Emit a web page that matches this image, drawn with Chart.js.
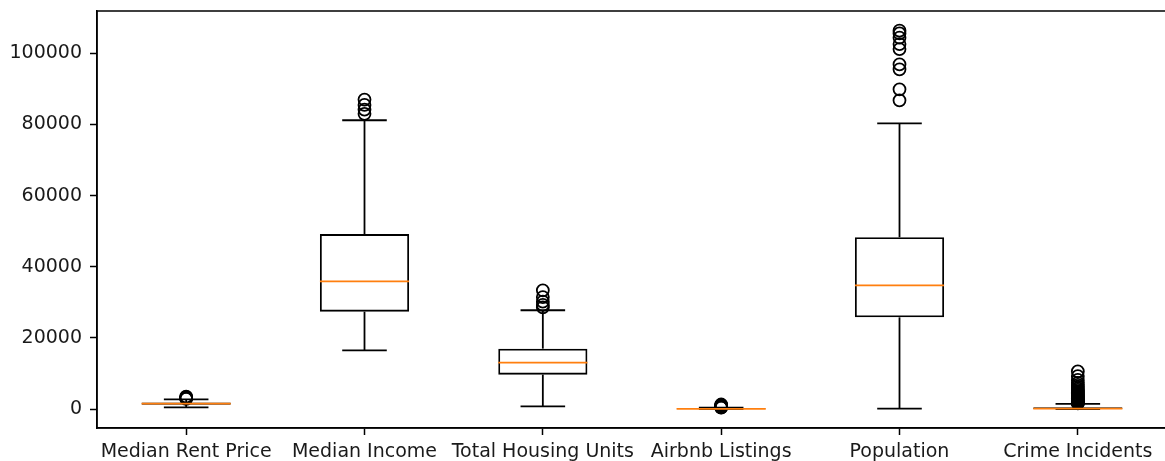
<!DOCTYPE html>
<html>
<head>
<meta charset="utf-8">
<script src="https://cdn.jsdelivr.net/npm/chart.js@4/dist/chart.umd.min.js"></script>
<style>
  html, body { margin: 0; padding: 0; background: #fff; overflow: hidden; }
  #box-chart { display: block; width: 1172px; height: 461px; }
</style>
</head>
<body>
<canvas id="box-chart" width="1172" height="461"></canvas>
<script>
// boxplot (matplotlib 스타일) — 박스는 floating bar, 수염/중앙값은 플러그인
const categories = ["Median Rent Price", "Median Income", "Total Housing Units", "Airbnb Listings", "Population", "Crime Incidents"];
const q1 =          [1250,  27400,  9700,   20,  25800,   60];
const medians =     [1550,  35900, 13100,   60,  34800,  170];
const q3 =          [1850,  49200, 17000,  190,  48300,  560];
const whiskerLow =  [ 480,  16500,   750,    0,    150,    0];
const whiskerHigh = [2750,  81200, 27800,  420,  80300, 1500];

const outRent    = [2900, 3050, 3200, 3350, 3500];
const outIncome  = [83000, 84200, 85500, 87000];
const outHousing = [28600, 29300, 30200, 31500, 33400];
const outAirbnb  = [450, 520, 600, 700, 800, 900, 1000, 1150, 1300];
const outPop     = [86800, 89900, 95500, 96900, 101200, 102600, 104400, 105600, 106400];
const outCrime   = [1600, 1700, 1800, 1900, 2000, 2100, 2200, 2350, 2500, 2650, 2800, 3000, 3200, 3400,
                    3600, 3800, 4100, 4400, 4700, 5000, 5400, 5800, 6300, 6800, 7400, 8200, 9300, 10600];
const outliers = [outRent, outIncome, outHousing, outAirbnb, outPop, outCrime];

const yTicks = [0, 20000, 40000, 60000, 80000, 100000];
const yMin = -5300, yMax = 111900;

const INK = "#000";
const TEXT = "#1a1a1a";
const MEDIAN_COLOR = "#ff7f0e";
const FONT = { family: "DejaVu Sans", size: 19 };
const LW = 1.8;

const outlierPoints = [];
outliers.forEach((list, i) => {
  for (const v of list) outlierPoints.push({ x: categories[i], y: v });
});

// 수염, 캡, 중앙값, 테두리 — 전부 scale 픽셀 변환으로
const boxLines = {
  id: "boxLines",
  afterDatasetsDraw(chart) {
    const { ctx, chartArea, scales: { x, y } } = chart;
    const slot = (chartArea.right - chartArea.left) / categories.length;
    const boxHalf = slot * 0.25;
    const capHalf = slot * 0.125;
    const line = (x1, y1, x2, y2, color) => {
      ctx.strokeStyle = color;
      ctx.beginPath(); ctx.moveTo(x1, y1); ctx.lineTo(x2, y2); ctx.stroke();
    };
    ctx.save();
    ctx.lineWidth = LW;
    categories.forEach((c, i) => {
      const cx = x.getPixelForValue(i);
      const yh = y.getPixelForValue(whiskerHigh[i]);
      const yl = y.getPixelForValue(whiskerLow[i]);
      line(cx, y.getPixelForValue(q3[i]), cx, yh, INK);
      line(cx, y.getPixelForValue(q1[i]), cx, yl, INK);
      line(cx - capHalf, yh, cx + capHalf, yh, INK);
      line(cx - capHalf, yl, cx + capHalf, yl, INK);
      const ym = y.getPixelForValue(medians[i]);
      line(cx - boxHalf, ym, cx + boxHalf, ym, MEDIAN_COLOR);
    });
    // 위/오른쪽 테두리 (오른쪽은 화면 밖)
    ctx.strokeStyle = INK;
    ctx.lineWidth = 1.5;
    ctx.strokeRect(chartArea.left, chartArea.top, chartArea.right - chartArea.left, chartArea.bottom - chartArea.top);
    ctx.restore();
  }
};

new Chart(document.getElementById("box-chart"), {
  type: "bar",
  data: {
    labels: categories,
    datasets: [
      {
        type: "scatter",
        data: outlierPoints,
        pointStyle: "circle",
        pointRadius: 6,
        borderWidth: 1.8,
        borderColor: "#000",
        backgroundColor: "rgba(0,0,0,0)",
        order: 0
      },
      {
        data: categories.map((c, i) => [q1[i], q3[i]]),
        backgroundColor: "rgba(0,0,0,0)",
        borderColor: INK,
        borderWidth: LW,
        borderSkipped: false,
        barPercentage: 0.5,
        categoryPercentage: 1,
        order: 1
      }
    ]
  },
  options: {
    responsive: false,
    animation: false,
    layout: { autoPadding: false, padding: { top: 11, right: 5, left: 0, bottom: 0 } },
    plugins: { legend: { display: false }, tooltip: { enabled: false } },
    scales: {
      x: {
        type: "category",
        offset: true,
        grid: { offset: false, drawOnChartArea: false, drawTicks: true, tickLength: 7, color: INK, tickWidth: 1.5 },
        border: { display: true, color: INK, width: 1.5 },
        ticks: { color: TEXT, font: FONT, padding: 6, maxRotation: 0, autoSkip: false },
        afterFit: (s) => { s.height = 33; s.paddingLeft = 0; s.paddingRight = 0; }
      },
      y: {
        min: yMin, max: yMax,
        grid: { drawOnChartArea: false, drawTicks: true, tickLength: 7, color: INK, tickWidth: 1.5 },
        border: { display: true, color: INK, width: 1.5 },
        ticks: { color: TEXT, font: FONT, padding: 8, callback: (v) => String(v) },
        afterBuildTicks: (s) => { s.ticks = yTicks.map(v => ({ value: v })); },
        afterFit: (s) => { s.width = 97; s.paddingTop = 0; s.paddingBottom = 0; }
      }
    }
  },
  plugins: [boxLines]
});
</script>
</body>
</html>
